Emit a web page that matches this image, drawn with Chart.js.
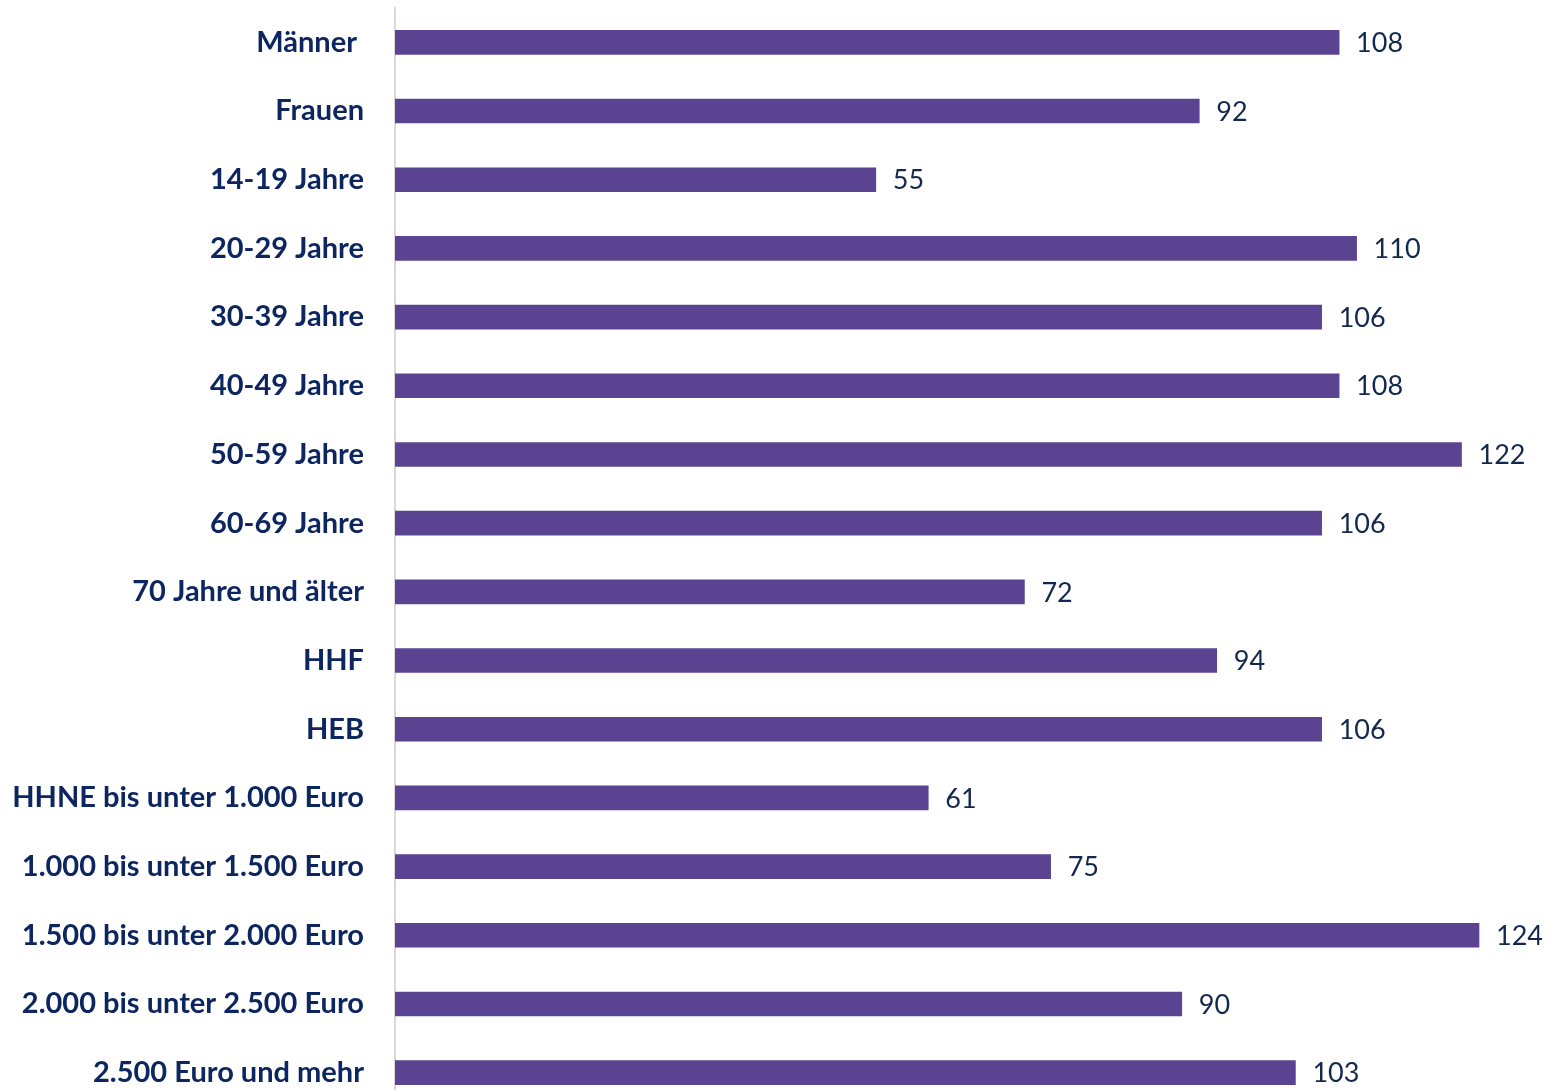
<!DOCTYPE html>
<html>
<head>
<meta charset="utf-8">
<script src="https://cdn.jsdelivr.net/npm/chart.js@4"></script>
<style>
  html, body { margin: 0; padding: 0; background: #ffffff; overflow: hidden; }
  #wrap { position: relative; width: 1547px; height: 1107px; }
</style>
</head>
<body>
<div id="wrap"><canvas id="c"></canvas></div>
<script>
const categories = [
  "Männer ", "Frauen", "14-19 Jahre", "20-29 Jahre", "30-39 Jahre", "40-49 Jahre",
  "50-59 Jahre", "60-69 Jahre", "70 Jahre und älter", "HHF", "HEB",
  "HHNE bis unter 1.000 Euro", "1.000 bis unter 1.500 Euro", "1.500 bis unter 2.000 Euro",
  "2.000 bis unter 2.500 Euro", "2.500 Euro und mehr"
];
const values = [108, 92, 55, 110, 106, 108, 122, 106, 72, 94, 106, 61, 75, 124, 90, 103];

const BAR_COLOR = "#5A4390";
const LABEL_COLOR = "#0D2660";
const VALUE_COLOR = "#13284E";

const valueLabels = {
  id: "valueLabels",
  afterDatasetsDraw(chart) {
    const ctx = chart.ctx;
    const meta = chart.getDatasetMeta(0);
    ctx.save();
    ctx.font = "27px Lato";
    ctx.fillStyle = VALUE_COLOR;
    ctx.textAlign = "left";
    ctx.textBaseline = "middle";
    meta.data.forEach((el, i) => {
      ctx.fillText(String(chart.data.datasets[0].data[i]), el.x + 17, el.y + 1);
    });
    ctx.restore();
  }
};

new Chart(document.getElementById("c"), {
  type: "bar",
  data: {
    labels: categories,
    datasets: [{
      data: values,
      backgroundColor: BAR_COLOR,
      borderWidth: 0,
      barThickness: 24
    }]
  },
  options: {
    indexAxis: "y",
    responsive: true,
    maintainAspectRatio: false,
    animation: false,
    layout: { padding: { top: 8, bottom: 0, left: 0, right: 0 } },
    plugins: { legend: { display: false }, tooltip: { enabled: false } },
    scales: {
      x: {
        display: false,
        min: 0,
        max: 131.78
      },
      y: {
        afterFit(scale) {
          scale.width = 395;
          scale.paddingTop = 0;
          scale.paddingBottom = 0;
        },
        grid: { display: false, drawTicks: false },
        border: { display: true, color: "#D9D9D9", width: 2 },
        ticks: {
          padding: 31,
          color: LABEL_COLOR,
          font: { family: "Lato", size: 29, weight: "bold" }
        }
      }
    }
  },
  plugins: [valueLabels]
});
</script>
</body>
</html>
